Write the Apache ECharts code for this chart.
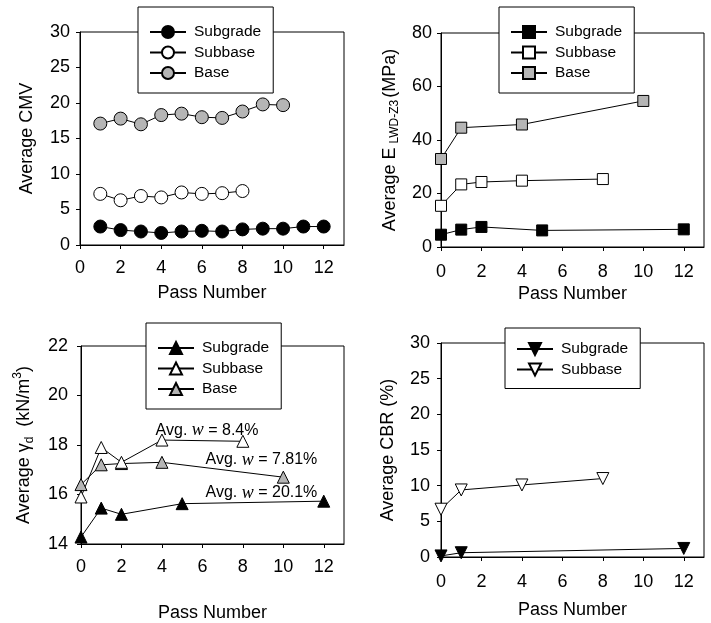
<!DOCTYPE html>
<html><head><meta charset="utf-8">
<script src="https://cdn.jsdelivr.net/npm/echarts@6/dist/echarts.min.js"></script>
<style>html,body{margin:0;padding:0;background:#fff}#c{width:711px;height:623px}</style>
</head><body><div id="c"></div>
<script>
// ---------- data ----------
const passTicks = [0, 2, 4, 6, 8, 10, 12];

// Panel (a): CMV
const cmvSubgradeX = [1, 2, 3, 4, 5, 6, 7, 8, 9, 10, 11, 12];
const cmvSubgradeY = [2.6, 2.1, 1.9, 1.7, 1.9, 2.0, 1.9, 2.2, 2.3, 2.3, 2.6, 2.6];
const cmvSubbaseX = [1, 2, 3, 4, 5, 6, 7, 8];
const cmvSubbaseY = [7.2, 6.3, 6.9, 6.7, 7.4, 7.2, 7.3, 7.6];
const cmvBaseX = [1, 2, 3, 4, 5, 6, 7, 8, 9, 10];
const cmvBaseY = [17.1, 17.8, 17.0, 18.3, 18.5, 18.0, 17.9, 18.8, 19.8, 19.7];

// Panel (b): E LWD-Z3
const eSubgradeX = [0, 1, 2, 5, 12];
const eSubgradeY = [4.6, 6.5, 7.5, 6.2, 6.6];
const eSubbaseX = [0, 1, 2, 4, 8];
const eSubbaseY = [15.4, 23.4, 24.3, 24.8, 25.4];
const eBaseX = [0, 1, 4, 10];
const eBaseY = [32.9, 44.6, 45.8, 54.6];

// Panel (c): dry unit weight
const gSubgradeX = [0, 1, 2, 5, 12];
const gSubgradeY = [14.28, 15.45, 15.2, 15.63, 15.73];
const gSubbaseX = [0, 1, 2, 4, 8];
const gSubbaseY = [15.9, 17.9, 17.3, 18.2, 18.15];
const gBaseX = [0, 1, 2, 4, 10];
const gBaseY = [16.4, 17.2, 17.25, 17.3, 16.7];
const annWater = ['8.4%', '7.81%', '20.1%'];
const annX = [6.23, 8.92, 8.92];
const annY = [18.58, 17.40, 16.06];

// Panel (d): CBR
const cbrSubgradeX = [0, 1, 12];
const cbrSubgradeY = [0.15, 0.6, 1.2];
const cbrSubbaseX = [0, 1, 4, 8];
const cbrSubbaseY = [6.7, 9.4, 10.1, 11.0];

// ---------- styling helpers ----------
const FONT = 'Liberation Sans, Arial, Helvetica, sans-serif';
const BLACK = '#000';
const GREY = '#b5b5b5';
const WHITE = '#fff';
const DOWN_TRI = 'path://M0,0 L10,0 L5,9 Z';

function zip(xs, ys) { return xs.map((x, i) => [x, ys[i]]); }

function lineSeries(name, idx, xs, ys, symbol, fill, size) {
  return {
    type: 'line', name: name, xAxisIndex: idx, yAxisIndex: idx,
    data: zip(xs, ys), symbol: symbol, symbolSize: size, showAllSymbol: true,
    clip: false, animation: false,
    lineStyle: { color: BLACK, width: 1 },
    itemStyle: { color: fill, borderColor: BLACK, borderWidth: 1, opacity: 1 },
    emphasis: { disabled: true }
  };
}

function xAxis(idx, nameGap, margin) {
  return {
    type: 'value', gridIndex: idx, min: 0, max: 13, interval: 2,
    name: 'Pass Number', nameLocation: 'middle', nameGap: nameGap,
    nameTextStyle: { fontFamily: FONT, fontSize: 18, color: BLACK },
    axisLine: { show: true, lineStyle: { color: BLACK, width: 1 } },
    axisTick: { show: true, inside: false, length: 4, customValues: passTicks, lineStyle: { color: BLACK } },
    axisLabel: { customValues: passTicks, fontFamily: FONT, fontSize: 18, color: BLACK, margin: margin },
    splitLine: { show: false }
  };
}

function yAxis(idx, min, max, interval, name, nameGap, margin, rich) {
  const ax = {
    type: 'value', gridIndex: idx, min: min, max: max, interval: interval,
    name: name, nameLocation: 'middle', nameGap: nameGap, nameRotate: 90,
    nameTextStyle: { fontFamily: FONT, fontSize: 18, color: BLACK },
    axisLine: { show: true, lineStyle: { color: BLACK, width: 1 } },
    axisTick: { show: true, inside: false, length: 4, lineStyle: { color: BLACK } },
    axisLabel: { fontFamily: FONT, fontSize: 18, color: BLACK, margin: margin },
    splitLine: { show: false }
  };
  if (rich) ax.nameTextStyle.rich = rich;
  return ax;
}

function legend(names, left, top, padding) {
  return {
    data: names, orient: 'vertical', left: left, top: top, padding: padding,
    itemWidth: 36, itemHeight: 15, itemGap: 4.5, selectedMode: false,
    backgroundColor: WHITE, borderColor: BLACK, borderWidth: 1, borderRadius: 0,
    formatter: n => n.split('#')[0],
    textStyle: { fontFamily: FONT, fontSize: 15.5, color: BLACK, padding: [0, 0, 0, 3] },
    z: 10
  };
}

const gridBase = { show: true, borderColor: BLACK, borderWidth: 1, backgroundColor: 'transparent', containLabel: false };

const option = {
  backgroundColor: '#fff',
  animation: false,
  grid: [
    Object.assign({ left: 80, top: 32, width: 264, height: 213 }, gridBase),
    Object.assign({ left: 441, top: 33, width: 263, height: 214 }, gridBase),
    Object.assign({ left: 81, top: 346, width: 263, height: 216 }, gridBase),
    Object.assign({ left: 441, top: 343, width: 263, height: 214 }, gridBase)
  ],
  xAxis: [xAxis(0, 39, 14), xAxis(1, 38, 16), xAxis(2, 60, 14), xAxis(3, 44, 16)],
  yAxis: [
    yAxis(0, 0, 30, 5, 'Average CMV', 44, 10),
    yAxis(1, 0, 80, 20, '{a|Average E}{s|LWD-Z3}{a|(MPa)}', 40, 9, {
      a: { fontFamily: FONT, fontSize: 18, color: BLACK, lineHeight: 22 },
      s: { fontFamily: FONT, fontSize: 12, color: BLACK, lineHeight: 14, verticalAlign: 'bottom', padding: [0, 2, 0, 4] }
    }),
    yAxis(2, 14, 22, 2, '{a|Average }{g|γ}{s|d}{a|  (kN/m}{p|3}{a|)}', 45, 13, {
      a: { fontFamily: FONT, fontSize: 18, color: BLACK, lineHeight: 24 },
      g: { fontFamily: FONT, fontSize: 18, color: BLACK, lineHeight: 24 },
      s: { fontFamily: FONT, fontSize: 12, color: BLACK, lineHeight: 14, verticalAlign: 'bottom' },
      p: { fontFamily: FONT, fontSize: 12, color: BLACK, lineHeight: 14, verticalAlign: 'top' }
    }),
    yAxis(3, 0, 30, 5, 'Average CBR (%)', 44, 11)
  ],
  legend: [
    legend(['Subgrade#a', 'Subbase#a', 'Base#a'], 138, 7, [17, 12, 12, 11]),
    legend(['Subgrade#b', 'Subbase#b', 'Base#b'], 499, 7, [17, 12, 12, 11]),
    legend(['Subgrade#c', 'Subbase#c', 'Base#c'], 146, 323, [17, 12, 12, 11]),
    legend(['Subgrade#d', 'Subbase#d'], 505, 328, [13, 12, 11, 11])
  ],
  series: [
    lineSeries('Subgrade#a', 0, cmvSubgradeX, cmvSubgradeY, 'circle', BLACK, 13),
    lineSeries('Subbase#a', 0, cmvSubbaseX, cmvSubbaseY, 'circle', WHITE, 13),
    lineSeries('Base#a', 0, cmvBaseX, cmvBaseY, 'circle', GREY, 13),

    lineSeries('Subgrade#b', 1, eSubgradeX, eSubgradeY, 'rect', BLACK, 11),
    lineSeries('Subbase#b', 1, eSubbaseX, eSubbaseY, 'rect', WHITE, 11),
    lineSeries('Base#b', 1, eBaseX, eBaseY, 'rect', GREY, 11),

    lineSeries('Subgrade#c', 2, gSubgradeX, gSubgradeY, 'triangle', BLACK, 12),
    lineSeries('Base#c', 2, gBaseX, gBaseY, 'triangle', GREY, 12),
    lineSeries('Subbase#c', 2, gSubbaseX, gSubbaseY, 'triangle', WHITE, 12),

    lineSeries('Subgrade#d', 3, cbrSubgradeX, cbrSubgradeY, DOWN_TRI, BLACK, 12),
    lineSeries('Subbase#d', 3, cbrSubbaseX, cbrSubbaseY, DOWN_TRI, WHITE, 12),

    {
      type: 'scatter', xAxisIndex: 2, yAxisIndex: 2, silent: true, animation: false,
      symbol: 'circle', symbolSize: 1, itemStyle: { opacity: 0 },
      data: annX.map((x, i) => [x, annY[i]]),
      label: {
        show: true, position: 'inside', opacity: 1,
        formatter: p => '{a|Avg. }{w|w}{a| = ' + annWater[p.dataIndex] + '}',
        rich: {
          a: { fontFamily: FONT, fontSize: 16, color: BLACK },
          w: { fontFamily: 'Liberation Serif, Times New Roman, serif', fontStyle: 'italic', fontSize: 18, color: BLACK }
        }
      },
      z: 5
    }
  ]
};

const chart = echarts.init(document.getElementById('c'), null, { renderer: 'canvas' });
chart.setOption(option);
</script>
</body></html>
